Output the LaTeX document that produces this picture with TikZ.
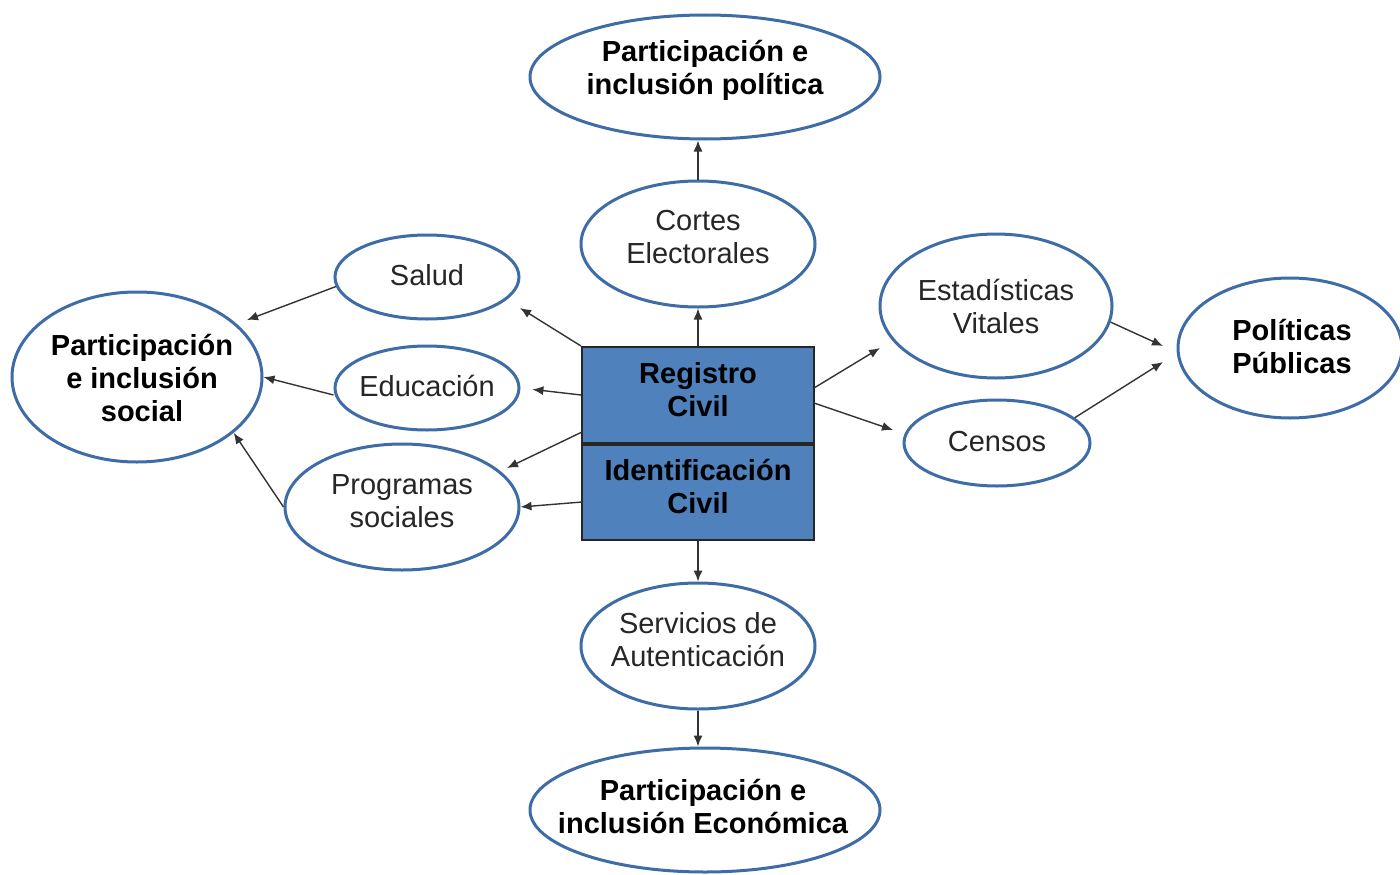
\documentclass[tikz,border=0pt]{standalone}
\usepackage{fontspec}
\setmainfont{Liberation Sans}
\usetikzlibrary{shapes.geometric,arrows.meta,calc}
\definecolor{elblue}{RGB}{62,108,166}
\definecolor{boxblue}{RGB}{79,129,189}
\definecolor{txt}{RGB}{38,38,38}
\begin{document}
\begin{tikzpicture}[x=1pt,y=-1pt,
 ell/.style={ellipse,draw=elblue,line width=3pt,inner sep=0pt},
 lbl/.style={align=center,inner sep=0pt,text=txt,font=\fontsize{29}{33}\selectfont},
 blbl/.style={lbl,text=black,font=\fontsize{29}{33}\selectfont\bfseries},
 blk/.style={rectangle,draw=black!85,line width=2pt,fill=boxblue,minimum width=232pt,inner sep=0pt},
 arr/.style={-{Latex[length=11pt,width=9pt]},line width=1.4pt,draw=black!80}]
\useasboundingbox[fill=white] (0,0) rectangle (1400,875);

% shapes
\node[ell,minimum width=350pt,minimum height=124pt] (top) at (705,77) {};
\node[ell,minimum width=234pt,minimum height=126pt] (cortes) at (698,244) {};
\node[blk,minimum height=96pt] (rc) at (698,395) {};
\node[blk,minimum height=97pt] (ic) at (698,491.5) {};
\draw[line width=3pt,black!85] (rc.south west) -- (rc.south east);
\node[ell,minimum width=184pt,minimum height=84pt] (salud) at (427,277) {};
\node[ell,minimum width=184pt,minimum height=84pt] (educ) at (427,388) {};
\node[ell,minimum width=234pt,minimum height=126pt] (prog) at (402,507) {};
\node[ell,minimum width=250pt,minimum height=170pt] (social) at (137,377) {};
\node[ell,minimum width=232pt,minimum height=144pt] (estad) at (996,306) {};
\node[ell,minimum width=186pt,minimum height=86pt] (censos) at (997,443) {};
\node[ell,minimum width=224pt,minimum height=140pt] (polit) at (1290,348) {};
\node[ell,minimum width=234pt,minimum height=126pt] (serv) at (698,646) {};
\node[ell,minimum width=350pt,minimum height=124pt] (econ) at (705,810) {};

% texts
\node[blbl] (topT) at ($(top)+(0,-7)$) {Participación e\\inclusión política};
\node[lbl] (cortesT) at ($(cortes)+(0,-7)$) {Cortes\\Electorales};
\node[blbl] (rcT) at ($(rc)+(0,-5)$) {Registro\\Civil};
\node[blbl] (icT) at ($(ic)+(0,-5)$) {Identificación\\Civil};
\node[lbl] (saludT) at ($(salud)+(0,-2)$) {Salud};
\node[lbl] (educT) at ($(educ)+(0,-2)$) {Educación};
\node[lbl] (progT) at ($(prog)+(0,-6)$) {Programas\\sociales};
\node[blbl] (socialT) at ($(social)+(5,1)$) {Participación\\e inclusión\\social};
\node[lbl] (estadT) at ($(estad)+(0,0)$) {Estadísticas\\Vitales};
\node[lbl] (censosT) at ($(censos)+(0,-1)$) {Censos};
\node[blbl] (politT) at ($(polit)+(2,-1)$) {Políticas\\Públicas};
\node[lbl] (servT) at ($(serv)+(0,-6)$) {Servicios de\\Autenticación};
\node[blbl] (econT) at ($(econ)+(-2,-4)$) {Participación e\\inclusión Económica};

% free ends
\coordinate (tSalud) at (520,308);
\coordinate (tProg) at (507,468);
\coordinate (sProg) at (582,502);
\coordinate (tSocS) at (247,320);
\coordinate (sEst) at (814,388);
\coordinate (tEst) at (880,348);
\coordinate (sCen) at (814,403);
\coordinate (tCen) at (893,430);
\coordinate (sRP) at (582,432);
\coordinate (tPol1) at (1163,346);
\coordinate (tPol2) at (1163,362);

% connectors
\draw[arr] (cortes.north) -- (cortes.north |- top.south);
\draw[arr] (rc.north) -- (cortes.south);
\draw[arr] (rc.north west) -- (tSalud);
\draw[arr,shorten >=12pt] (rc.west) -- (educ.east);
\draw[arr] (sRP) -- (tProg);
\draw[arr] (sProg) -- (prog.east);
\draw[arr] (salud.186) -- (tSocS);
\draw[arr] (educ.west) ++(0,7) -- (social.east);
\draw[arr] (prog.west) -- (social.-30);
\draw[arr] (sEst) -- (tEst);
\draw[arr] (sCen) -- (tCen);
\draw[arr] (estad.-8) -- (tPol1);
\draw[arr] (censos.18) -- (tPol2);
\draw[arr] (ic.south) -- (serv.north);
\draw[arr] (serv.south) -- (serv.south |- econ.north);
\end{tikzpicture}
\end{document}
